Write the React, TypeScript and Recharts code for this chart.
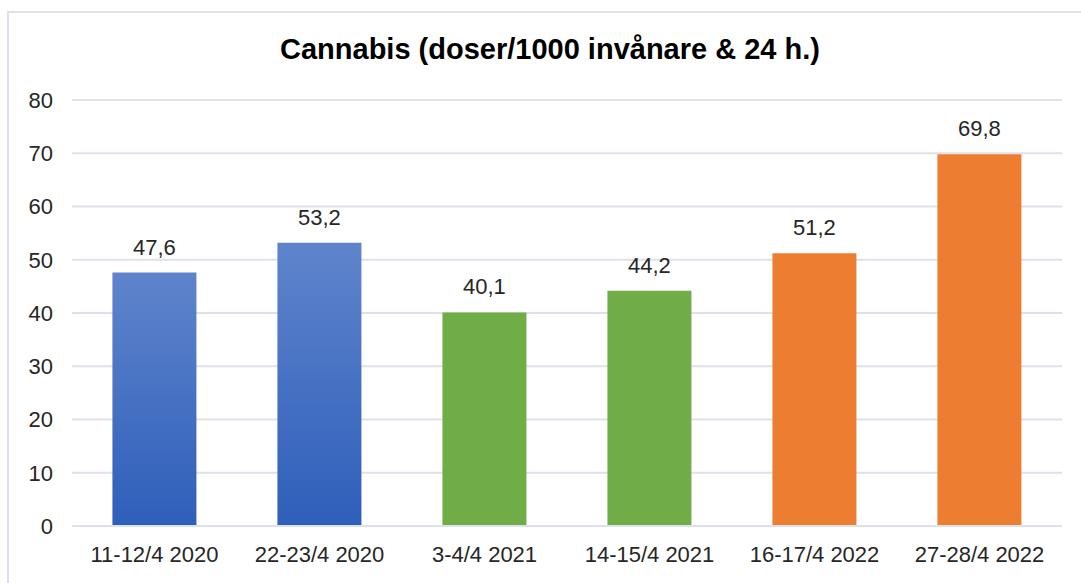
import { BarChart, Bar, XAxis, YAxis, CartesianGrid, Cell, LabelList } from "recharts";

const categories = ["11-12/4 2020", "22-23/4 2020", "3-4/4 2021", "14-15/4 2021", "16-17/4 2022", "27-28/4 2022"];
const values = [47.6, 53.2, 40.1, 44.2, 51.2, 69.8];
const barFills = ["url(#blueGrad)", "url(#blueGrad)", "#70ad47", "#70ad47", "#ed7d31", "#ed7d31"];
const yTicks = [0, 10, 20, 30, 40, 50, 60, 70, 80];

const data = categories.map((c, i) => ({ name: c, value: values[i] }));

const fmt = (v: number) => String(v).replace(".", ",");
const font = "Liberation Sans, Arial, sans-serif";

export default function App() {
  return (
    <div style={{ position: "absolute", left: 0, top: 0, width: 1081, height: 583, background: "#fff", overflow: "hidden" }}>
      <div
        style={{
          position: "absolute",
          left: 7,
          top: 11,
          width: 1100,
          height: 600,
          border: "2px solid #dde1e9",
          boxSizing: "border-box",
        }}
      />
      <div
        style={{
          position: "absolute",
          left: 0,
          top: 33,
          width: 1100,
          textAlign: "center",
          fontFamily: font,
          fontWeight: "bold",
          fontSize: 29,
          color: "#000",
        }}
      >
        Cannabis (doser/1000 invånare &amp; 24 h.)
      </div>
      <BarChart
        width={1081}
        height={583}
        data={data}
        margin={{ top: 100, right: 19, left: 0, bottom: 27 }}
        barCategoryGap="24.5%"
        style={{ position: "absolute", left: 0, top: 0 }}
      >
        <defs>
          <linearGradient id="blueGrad" x1="0" y1="0" x2="0" y2="1">
            <stop offset="0%" stopColor="#5f84cc" />
            <stop offset="100%" stopColor="#2e5fba" />
          </linearGradient>
        </defs>
        <CartesianGrid vertical={false} stroke="#dde1e9" strokeWidth={2} />
        <XAxis
          dataKey="name"
          axisLine={{ stroke: "#dde1e9", strokeWidth: 2 }}
          tickLine={false}
          tickMargin={14}
          tick={{ fill: "#262626", fontSize: 22, fontFamily: font }}
        />
        <YAxis
          domain={[0, 80]}
          ticks={yTicks}
          width={72}
          axisLine={false}
          tickLine={false}
          tickMargin={13}
          tick={{ fill: "#262626", fontSize: 22, fontFamily: font }}
        />
        <Bar dataKey="value" isAnimationActive={false}>
          {data.map((d, i) => (
            <Cell key={d.name} fill={barFills[i]} />
          ))}
          <LabelList
            dataKey="value"
            position="top"
            offset={18}
            formatter={(v: any) => fmt(Number(v))}
            style={{ fill: "#262626", fontSize: 22, fontFamily: font }}
          />
        </Bar>
      </BarChart>
    </div>
  );
}
